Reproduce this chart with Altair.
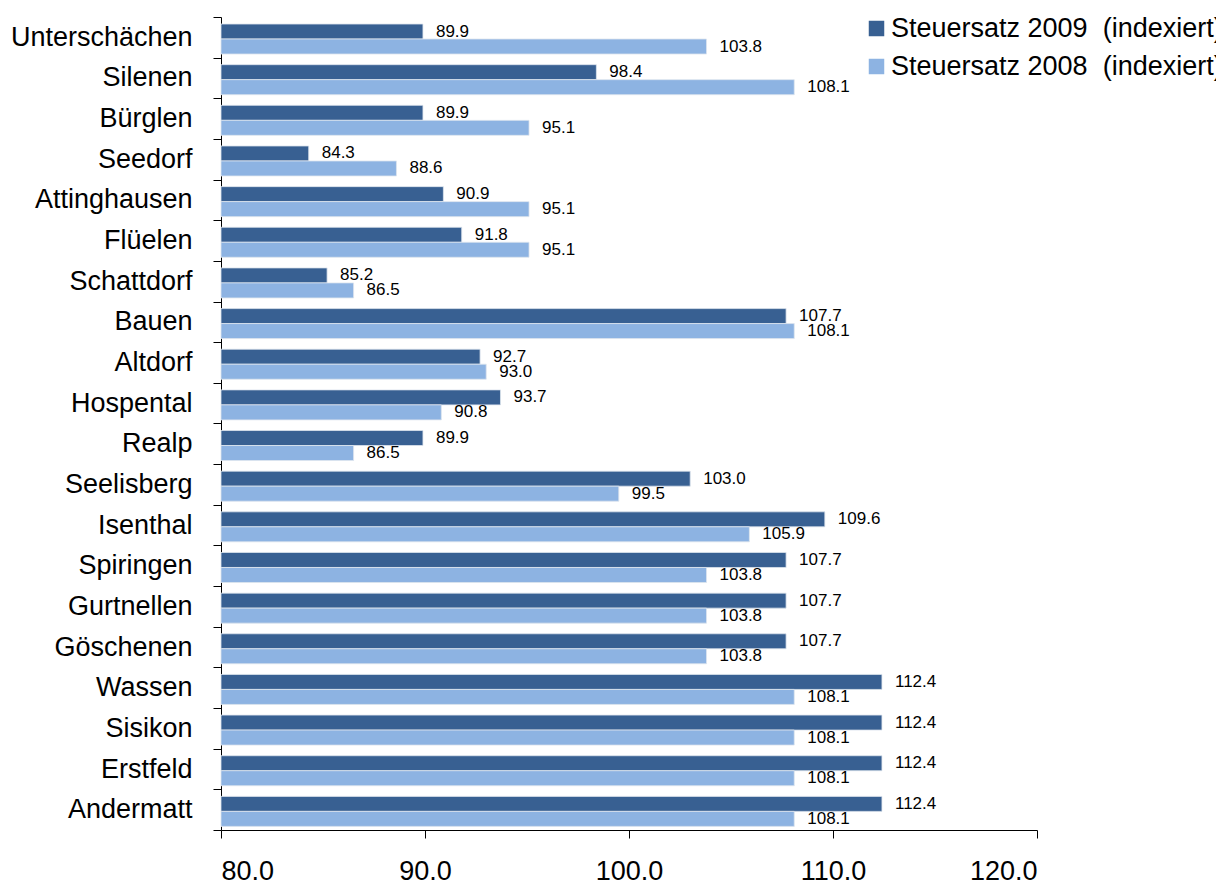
import altair as alt
import pandas as pd

gemeinden = ["Unterschächen", "Silenen", "Bürglen", "Seedorf", "Attinghausen", "Flüelen",
             "Schattdorf", "Bauen", "Altdorf", "Hospental", "Realp", "Seelisberg", "Isenthal",
             "Spiringen", "Gurtnellen", "Göschenen", "Wassen", "Sisikon", "Erstfeld", "Andermatt"]
satz_2009 = [89.9, 98.4, 89.9, 84.3, 90.9, 91.8, 85.2, 107.7, 92.7, 93.7, 89.9, 103.0, 109.6,
             107.7, 107.7, 107.7, 112.4, 112.4, 112.4, 112.4]
satz_2008 = [103.8, 108.1, 95.1, 88.6, 95.1, 95.1, 86.5, 108.1, 93.0, 90.8, 86.5, 99.5, 105.9,
             103.8, 103.8, 103.8, 108.1, 108.1, 108.1, 108.1]
serien = ["Steuersatz 2009\u00a0 (indexiert)", "Steuersatz 2008\u00a0 (indexiert)"]
farben = ["#386092", "#8db3e2"]
x_ticks = [80, 90, 100, 110, 120]

rows = []
for g, a, b in zip(gemeinden, satz_2009, satz_2008):
    rows.append({"Gemeinde": g, "Serie": serien[0], "Wert": a})
    rows.append({"Gemeinde": g, "Serie": serien[1], "Wert": b})
df = pd.DataFrame(rows)

FONT = "Liberation Sans"
BIG = 27

y_enc = alt.Y("Gemeinde:N", sort=gemeinden, title=None,
              scale=alt.Scale(paddingInner=0, paddingOuter=0),
              axis=alt.Axis(tickBand="extent", tickSize=8, labelPadding=21,
                            labelFontSize=BIG, labelFont=FONT, labelColor="#000000",
                            domainColor="#000000", tickColor="#000000", labelLimit=400))
yoff = alt.YOffset("Serie:N", sort=serien,
                   scale=alt.Scale(paddingInner=0, paddingOuter=0.355, align=0.66))
x_enc = alt.X("Wert:Q", title=None,
              scale=alt.Scale(domain=[80, 120], zero=False, nice=False),
              axis=alt.Axis(values=x_ticks, format=".1f", tickSize=8, labelPadding=20,
                            labelFontSize=BIG, labelFont=FONT, labelColor="#000000",
                            domainColor="#000000", tickColor="#000000", grid=False))

base = alt.Chart(df).encode(y=y_enc, yOffset=yoff)

bars = base.mark_bar(stroke="#dde4ee", strokeWidth=0.8).encode(
    x=x_enc,
    x2=alt.datum(80),
    color=alt.Color("Serie:N", sort=serien,
                    scale=alt.Scale(domain=serien, range=farben),
                    legend=alt.Legend(title=None, orient="none", legendX=642, legendY=-2,
                                      symbolType="square", symbolSize=240,
                                      symbolStrokeWidth=0, labelFontSize=BIG,
                                      labelFont=FONT, labelColor="#000000",
                                      labelOffset=1, rowPadding=10, padding=0,
                                      labelLimit=600)),
)

labels = base.mark_text(align="left", baseline="middle", dx=13, fontSize=17,
                        font=FONT, color="#000000").encode(
    x=alt.X("Wert:Q"),
    text=alt.Text("Wert:Q", format=".1f"),
)

chart = alt.layer(bars, labels).properties(
    width=816, height=813,
    autosize=alt.AutoSizeParams(type="none"),
    padding={"left": 213, "top": 9, "right": 179, "bottom": 62},
    background="#ffffff",
).configure_view(stroke=None)

chart.save("out.html", embed_options={"renderer": "svg", "actions": False})
